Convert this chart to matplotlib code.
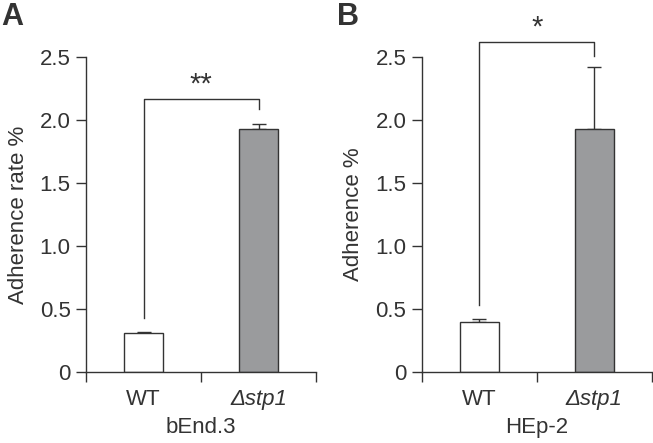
#!/usr/bin/env python3
"""Adherence of WT vs stp1 mutant on two cell lines."""

import matplotlib
matplotlib.use("Agg")
import matplotlib.pyplot as plt

strains = ["WT", "Δstp1"]
tick_labels = ["0", "0.5", "1.0", "1.5", "2.0", "2.5"]
tick_values = [0, 0.5, 1.0, 1.5, 2.0, 2.5]

bend_means = [0.31, 1.93]
bend_errs = [0.01, 0.04]
hep_means = [0.40, 1.93]
hep_errs = [0.02, 0.49]

panels = [
    ("A", "bEnd.3", "Adherence rate %", bend_means, bend_errs, "**", 2.17, (0.43, 2.09)),
    ("B", "HEp-2", "Adherence %", hep_means, hep_errs, "*", 2.62, (0.53, 2.51)),
]

DARK = "#333333"
plt.rcParams["font.family"] = ["Liberation Sans", "DejaVu Sans"]
plt.rcParams["text.color"] = DARK
plt.rcParams["axes.labelcolor"] = DARK

fig = plt.figure(figsize=(6.53, 4.43), dpi=100)
lefts = [86 / 653, 421.7 / 653]
width = 230 / 653
bottom = (443 - 372) / 443
height = 315 / 443
letter_x = [0.002, 337 / 653]

for left, lx, (letter, xlabel, ylabel, means, errs, stars, bracket_y, legs) in zip(
        lefts, letter_x, panels):
    ax = fig.add_axes([left, bottom, width, height])
    x = [0, 1]
    ax.bar(x, means, width=0.34, color=["white", "#9a9b9d"],
           edgecolor=DARK, linewidth=1.0, zorder=2)
    ax.errorbar(x, means, yerr=[[0, 0], errs], fmt="none", ecolor=DARK,
                elinewidth=1.0, capsize=5, capthick=1.0, zorder=1)
    # significance bracket
    ax.plot([0, 0, 1, 1], [legs[0], bracket_y, bracket_y, legs[1]],
            color=DARK, linewidth=1.0, clip_on=False)
    ax.text(0.5, bracket_y + 0.0, stars, ha="center", va="bottom",
            fontsize=21, clip_on=False)

    ax.set_xlim(-0.5, 1.5)
    ax.set_ylim(0, 2.5)
    ax.set_yticks(tick_values)
    ax.set_yticklabels(tick_labels)
    ax.set_xticks(x)
    ax.set_xticklabels(strains)
    ax.get_xticklabels()[1].set_fontstyle("italic")
    ax.set_xticks([-0.5, 0.5, 1.5], minor=True)
    ax.tick_params(axis="x", which="major", length=0, pad=12, labelsize=16, colors=DARK)
    ax.tick_params(axis="x", which="minor", length=7, width=1.0, color=DARK, direction="out")
    ax.tick_params(axis="y", length=7, width=1.0, labelsize=16, colors=DARK, pad=4)
    for side in ("top", "right"):
        ax.spines[side].set_visible(False)
    for side in ("left", "bottom"):
        ax.spines[side].set_color(DARK)
        ax.spines[side].set_linewidth(1.0)
    ax.set_xlabel(xlabel, fontsize=16, labelpad=5)
    ax.set_ylabel(ylabel, fontsize=16, labelpad=8)
    fig.text(lx, 0.995, letter, fontsize=22, fontweight="bold", va="top", ha="left")

fig.savefig("out.png", dpi=100)
